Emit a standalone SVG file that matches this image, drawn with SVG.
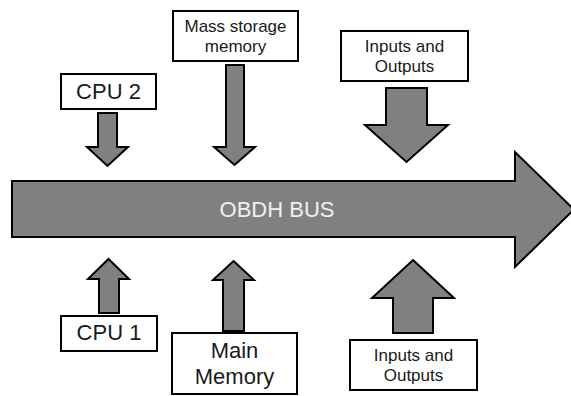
<svg xmlns="http://www.w3.org/2000/svg" width="571" height="396" viewBox="0 0 571 396">
<style>
.box{fill:#fff;stroke:#000;stroke-width:2}
.arr{fill:#808080;stroke:#000;stroke-width:2;stroke-linejoin:miter}
.t{font-family:"Liberation Sans",Arial,sans-serif;fill:#1a1a1a;text-anchor:middle}
.s{font-size:17px}
.l{font-size:22px}
.bus{font-family:"Liberation Sans",Arial,sans-serif;fill:#f0f0f0;text-anchor:middle;font-size:22px}
</style>
<rect width="571" height="396" fill="#fff"/>
<g id="connectors">
<polygon class="arr" points="98,113 117,113 117,147 128,147 107.5,166 87,147 98,147"/>
<polygon class="arr" points="226,65 244,65 244,147 255,147 234.5,165 214,147 226,147"/>
<polygon class="arr" points="386,88 427,88 427,125 448,125 406.5,162 365,125 386,125"/>
<polygon class="arr" points="108.5,259 129,279 119,279 119,313 99,313 99,279 88,279"/>
<polygon class="arr" points="233.5,261 254,280 244,280 244,331 223,331 223,280 213,280"/>
<polygon class="arr" points="413,260 454,298 433,298 433,333 393,333 393,298 372,298"/>
</g>
<g id="bus">
<polygon class="arr" points="12,181 515,181 515,152 574,209.5 515,267 515,237 12,237"/>
<text class="bus" x="277" y="217">OBDH BUS</text>
</g>
<g id="cpu2">
<rect class="box" x="61" y="74" width="95" height="35"/>
<text class="t l" x="108.5" y="99">CPU 2</text>
</g>
<g id="mass">
<rect class="box" x="173" y="11" width="125" height="50"/>
<text class="t s" x="235.5" y="32">Mass storage</text>
<text class="t s" x="235.5" y="52">memory</text>
</g>
<g id="io-top">
<rect class="box" x="341" y="31" width="127" height="50"/>
<text class="t s" x="404.5" y="52">Inputs and</text>
<text class="t s" x="404.5" y="72">Outputs</text>
</g>
<g id="cpu1">
<rect class="box" x="61" y="316" width="96" height="35"/>
<text class="t l" x="109" y="340">CPU 1</text>
</g>
<g id="main">
<rect class="box" x="172" y="333" width="125" height="61"/>
<text class="t l" x="234.5" y="358">Main</text>
<text class="t l" x="234.5" y="384">Memory</text>
</g>
<g id="io-bottom">
<rect class="box" x="350" y="340" width="127" height="50"/>
<text class="t s" x="413.5" y="361">Inputs and</text>
<text class="t s" x="413.5" y="381">Outputs</text>
</g>
</svg>
